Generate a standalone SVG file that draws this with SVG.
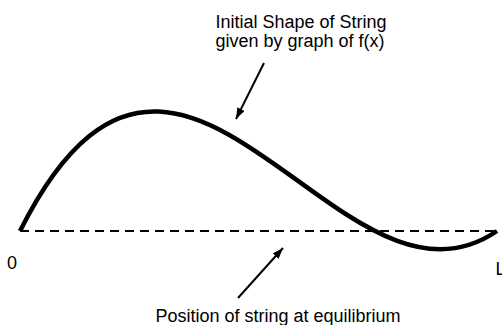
<svg xmlns="http://www.w3.org/2000/svg" width="502" height="325" viewBox="0 0 502 325">
<style>
text{font-family:"Liberation Sans",Arial,sans-serif;font-size:18px;fill:#000}
.pt{stroke:#000;stroke-width:2;fill:none}
</style>
<defs>
<marker id="ah" viewBox="0 0 11 8" refX="11" refY="4" markerWidth="11" markerHeight="8" markerUnits="userSpaceOnUse" orient="auto">
<path d="M0,0 L11,4 L0,8 z" fill="#000"/>
</marker>
</defs>
<rect width="502" height="325" fill="#fff"/>
<g id="equilibrium">
<line x1="20" y1="231" x2="497" y2="231" stroke="#000" stroke-width="2" stroke-dasharray="9,6"/>
</g>
<g id="string">
<path d="M20,231 C179,-86 338,340 497,231" fill="none" stroke="#000" stroke-width="4.5"/>
</g>
<g id="connectors">
<line class="pt" x1="264" y1="63" x2="236" y2="119" marker-end="url(#ah)"/>
<line class="pt" x1="238" y1="298" x2="283" y2="248" marker-end="url(#ah)"/>
</g>
<g id="label-initial">
<text x="301" y="28" text-anchor="middle">Initial Shape of String</text>
<text x="300" y="47" text-anchor="middle">given by graph of f(x)</text>
</g>
<g id="label-equilibrium">
<text x="278" y="322" text-anchor="middle">Position of string at equilibrium</text>
</g>
<g id="label-0"><text x="7" y="269">0</text></g>
<g id="label-L"><text x="495.5" y="275">L</text></g>
</svg>
